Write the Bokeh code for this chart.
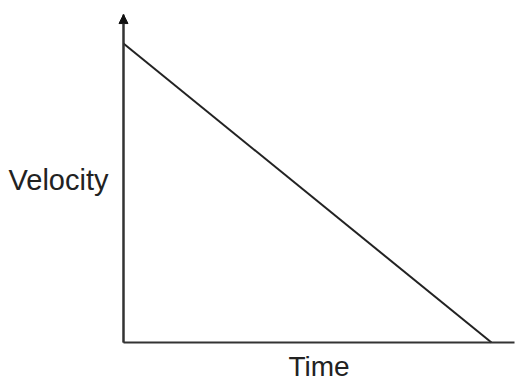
from bokeh.plotting import figure
from bokeh.models import Range1d, FixedTicker, Arrow, NormalHead, Label
from bokeh.embed import file_html
from bokeh.resources import INLINE

# Data
time = [0, 10]
velocity = [10, 0]
x_label = "Time"
y_label = "Velocity"

# axis extents (data units)
x_axis_end = 10.625
y_axis_end = 10.97
# view ranges (leave room around the axes for labels and arrow head)
x_view = (-3.342, 10.707)
y_view = (-1.17, 11.44)

p = figure(width=517, height=377, output_backend="svg", toolbar_location=None,
           x_range=Range1d(*x_view), y_range=Range1d(*y_view),
           min_border_left=0, min_border_right=0, min_border_top=0, min_border_bottom=0)
p.outline_line_color = None
p.grid.grid_line_color = None
p.background_fill_color = "white"
p.border_fill_color = "white"

for ax in (p.xaxis[0], p.yaxis[0]):
    ax.ticker = FixedTicker(ticks=[])
    ax.major_tick_out = 0
    ax.major_tick_in = 0
    ax.minor_tick_out = 0
    ax.minor_tick_in = 0
    ax.major_tick_line_color = None
    ax.minor_tick_line_color = None
    ax.major_label_text_font_size = "0px"
    ax.axis_line_color = "#333333"
    ax.axis_line_width = 2
    ax.fixed_location = 0

p.xaxis.bounds = (0, x_axis_end)
p.yaxis.bounds = (0, y_axis_end)

p.add_layout(Label(x=0, y=y_axis_end * 0.496, x_offset=-15, text=y_label,
                   text_align="right", text_baseline="middle",
                   text_font="Liberation Sans", text_font_size="29px",
                   text_color="#222222"))
p.add_layout(Label(x=x_axis_end / 2, y=-0.80, text=x_label, text_align="center",
                   text_baseline="alphabetic", text_font="Liberation Sans",
                   text_font_size="28px", text_color="#222222"))

p.line(time, velocity, line_width=2, line_color="#222222")

p.add_layout(Arrow(end=NormalHead(size=9, fill_color="#111111", line_color="#111111"),
                   x_start=0, y_start=0, x_end=0, y_end=y_axis_end,
                   line_width=2, line_color="#333333"))

open("out.html", "w").write(file_html(p, INLINE))
